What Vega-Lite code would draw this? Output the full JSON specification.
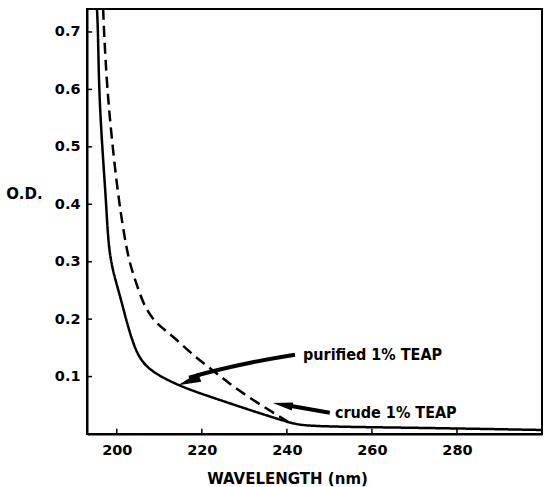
{
  "$schema": "https://vega.github.io/schema/vega-lite/v6.json",
  "width": 455,
  "height": 425,
  "autosize": {"type": "none"},
  "padding": {"left": 87, "top": 9, "right": 4, "bottom": 53},
  "background": "white",
  "config": {
    "view": {"stroke": "black", "strokeWidth": 2},
    "axis": {
      "domainColor": "black", "domainWidth": 2, "ticks": false,
      "labelFont": "DejaVu Sans", "labelFontWeight": "bold", "labelFontSize": 14.5,
      "labelColor": "black", "titleFont": "DejaVu Sans", "titleFontWeight": "bold", "titleFontSize": 15,
      "titleColor": "black", "grid": false
    }
  },
  "datasets": {
    "curves": [
      {"series": "purified", "wl": 195.35, "od": 0.740},
      {"series": "purified", "wl": 195.6, "od": 0.700},
      {"series": "purified", "wl": 195.8, "od": 0.605},
      {"series": "purified", "wl": 196.5, "od": 0.507},
      {"series": "purified", "wl": 197.5, "od": 0.404},
      {"series": "purified", "wl": 198.0, "od": 0.330},
      {"series": "purified", "wl": 199.0, "od": 0.285},
      {"series": "purified", "wl": 200.8, "od": 0.240},
      {"series": "purified", "wl": 202.4, "od": 0.193},
      {"series": "purified", "wl": 203.9, "od": 0.157},
      {"series": "purified", "wl": 205.3, "od": 0.133},
      {"series": "purified", "wl": 207.4, "od": 0.114},
      {"series": "purified", "wl": 210.6, "od": 0.099},
      {"series": "purified", "wl": 214.5, "od": 0.085},
      {"series": "purified", "wl": 218.4, "od": 0.074},
      {"series": "purified", "wl": 222.3, "od": 0.064},
      {"series": "purified", "wl": 232.0, "od": 0.040},
      {"series": "purified", "wl": 238.4, "od": 0.025},
      {"series": "purified", "wl": 241.5, "od": 0.018},
      {"series": "purified", "wl": 245.5, "od": 0.013},
      {"series": "purified", "wl": 270.0, "od": 0.011},
      {"series": "purified", "wl": 300.0, "od": 0.007},
      {"series": "crude", "wl": 196.8, "od": 0.740},
      {"series": "crude", "wl": 197.0, "od": 0.700},
      {"series": "crude", "wl": 197.7, "od": 0.605},
      {"series": "crude", "wl": 198.9, "od": 0.507},
      {"series": "crude", "wl": 200.5, "od": 0.404},
      {"series": "crude", "wl": 202.3, "od": 0.321},
      {"series": "crude", "wl": 203.5, "od": 0.286},
      {"series": "crude", "wl": 205.1, "od": 0.251},
      {"series": "crude", "wl": 206.6, "od": 0.221},
      {"series": "crude", "wl": 208.6, "od": 0.199},
      {"series": "crude", "wl": 210.6, "od": 0.185},
      {"series": "crude", "wl": 213.7, "od": 0.167},
      {"series": "crude", "wl": 218.4, "od": 0.134},
      {"series": "crude", "wl": 222.3, "od": 0.113},
      {"series": "crude", "wl": 226.2, "od": 0.089},
      {"series": "crude", "wl": 232.0, "od": 0.059},
      {"series": "crude", "wl": 238.4, "od": 0.030},
      {"series": "crude", "wl": 240.7, "od": 0.019}
    ],
    "arrows": [
      {"arrow": "purified", "wl": 241.9, "od": 0.138},
      {"arrow": "purified", "wl": 232.0, "od": 0.125},
      {"arrow": "purified", "wl": 221.9, "od": 0.108},
      {"arrow": "purified", "wl": 217.0, "od": 0.098},
      {"arrow": "crude", "wl": 250.1, "od": 0.037},
      {"arrow": "crude", "wl": 240.0, "od": 0.050}
    ],
    "heads": [
      {"arrow": "purified", "wl": 214.4, "od": 0.085},
      {"arrow": "crude", "wl": 236.7, "od": 0.054}
    ],
    "labels": [
      {"label": "purified 1% TEAP", "wl": 243.8, "od": 0.138},
      {"label": "crude  1% TEAP", "wl": 251.3, "od": 0.037}
    ],
    "xticks": [{"wl": 200, "base": 0, "top": 0.009}, {"wl": 220, "base": 0, "top": 0.009}, {"wl": 240, "base": 0, "top": 0.009}, {"wl": 260, "base": 0, "top": 0.009}, {"wl": 280, "base": 0, "top": 0.009}],
    "yticks": [{"od": 0.1, "left": 193, "right": 194.2}, {"od": 0.2, "left": 193, "right": 194.2}, {"od": 0.3, "left": 193, "right": 194.2}, {"od": 0.4, "left": 193, "right": 194.2}, {"od": 0.5, "left": 193, "right": 194.2}, {"od": 0.6, "left": 193, "right": 194.2}, {"od": 0.7, "left": 193, "right": 194.2}]
  },
  "encoding": {
    "x": {"field": "wl", "type": "quantitative", "scale": {"domain": [193, 300], "nice": false, "zero": false},
      "axis": {"values": [200, 220, 240, 260, 280], "title": "WAVELENGTH (nm)", "labelPadding": 9,
        "titleX": 200, "titleY": 44, "titleAlign": "center", "titleBaseline": "middle", "titleAnchor": null}},
    "y": {"field": "od", "type": "quantitative", "scale": {"domain": [0, 0.74], "nice": false},
      "axis": {"values": [0.1, 0.2, 0.3, 0.4, 0.5, 0.6, 0.7], "format": ".1f", "title": "O.D.", "labelPadding": 7,
        "titleAngle": 0, "titleX": -63, "titleY": 184, "titleAlign": "center", "titleBaseline": "middle", "titleAnchor": null}}
  },
  "layer": [
    {
      "data": {"name": "curves"},
      "mark": {"type": "line", "color": "black", "strokeWidth": 2.5, "clip": true, "interpolate": "basis"},
      "encoding": {
        "strokeDash": {"field": "series", "type": "nominal", "scale": {"domain": ["purified", "crude"], "range": [[1, 0], [11, 6]]}, "legend": null}
      }
    },
    {
      "data": {"name": "arrows"},
      "mark": {"type": "line", "color": "black", "strokeWidth": 4, "interpolate": "monotone"},
      "encoding": {"detail": {"field": "arrow", "type": "nominal"}}
    },
    {
      "data": {"name": "heads"},
      "transform": [{"filter": "datum.arrow === 'purified'"}],
      "mark": {"type": "point", "shape": "M0,0L0.42,2L-0.42,2Z", "filled": true, "color": "black", "opacity": 1, "size": 529, "angle": 250}
    },
    {
      "data": {"name": "heads"},
      "transform": [{"filter": "datum.arrow === 'crude'"}],
      "mark": {"type": "point", "shape": "M0,0L0.4,2L-0.4,2Z", "filled": true, "color": "black", "opacity": 1, "size": 400, "angle": 280}
    },
    {
      "data": {"name": "labels"},
      "mark": {"type": "text", "align": "left", "baseline": "middle", "font": "DejaVu Sans Condensed", "fontWeight": "bold", "fontSize": 16, "color": "black"},
      "encoding": {"text": {"field": "label", "type": "nominal"}}
    },
    {
      "data": {"name": "xticks"},
      "mark": {"type": "rule", "color": "black", "strokeWidth": 1.5},
      "encoding": {"x": {"field": "wl", "type": "quantitative"}, "y": {"field": "base", "type": "quantitative"}, "y2": {"field": "top"}}
    },
    {
      "data": {"name": "yticks"},
      "mark": {"type": "rule", "color": "black", "strokeWidth": 1.5},
      "encoding": {"y": {"field": "od", "type": "quantitative"}, "x": {"field": "left", "type": "quantitative"}, "x2": {"field": "right"}}
    }
  ]
}
